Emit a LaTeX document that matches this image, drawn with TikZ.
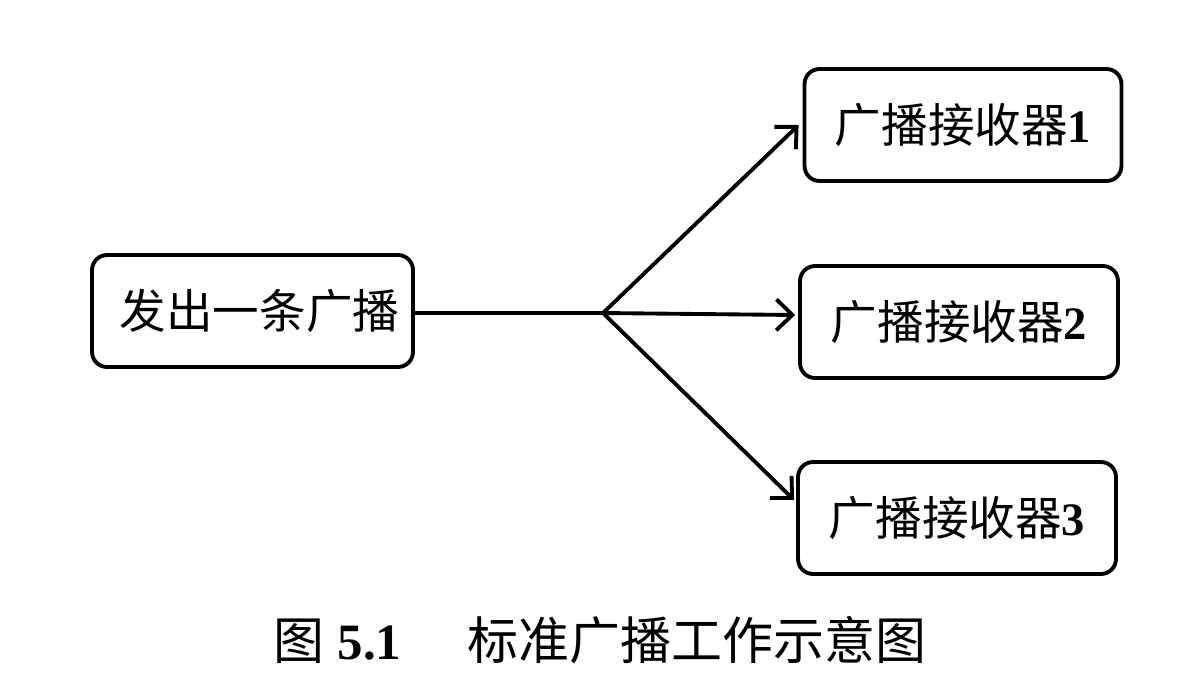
\documentclass[tikz,border=0pt]{standalone}
\usepackage{fontspec}
\setmainfont{Liberation Serif}
\newfontfamily\cjk{Noto Sans CJK SC}
\usetikzlibrary{arrows.meta,calc}
\begin{document}
\begin{tikzpicture}[x=0.02cm,y=-0.02cm,
  box/.style={draw,line width=2.2pt,rounded corners=0.3cm,minimum width=6.4cm,minimum height=2.24cm,inner sep=0pt,font=\fontsize{26.5}{30}\selectfont},
  conn/.style={line width=2.2pt},
  arr/.style={conn,-{Straight Barb[length=0.32cm,width=0.62cm,line width=2.2pt]}}]
\useasboundingbox (0,0) rectangle (1190,677);
\node[box,minimum width=6.42cm] (s) at (252.5,311) {\hspace{8pt}\cjk 发出一条广播};
\node[box,minimum width=6.34cm] (r1) at (963,125) {{\cjk 广播接收器}{\bfseries 1}};
\node[box,minimum width=6.36cm] (r2) at (959,322) {{\cjk 广播接收器}{\bfseries 2}};
\node[box,minimum width=6.36cm] (r3) at (957,518) {{\cjk 广播接收器}{\bfseries 3}};
\coordinate (b) at (603,313);
\draw[conn] (s.east |- b) -- (b);
\draw[arr] (b) -- ($(r1.west)+(-4,0)$);
\draw[arr] (b) -- ($(b -| r2.west)+(-3,2)$);
\draw[arr] (b) -- ($(r3.west)+(-2,-18)$);
\node[font=\fontsize{29}{32}\selectfont] (cap) at (600,640) {{\cjk 图}\ {\bfseries 5.1}\hspace{1.3em}{\cjk 标准广播工作示意图}};
\end{tikzpicture}
\end{document}
